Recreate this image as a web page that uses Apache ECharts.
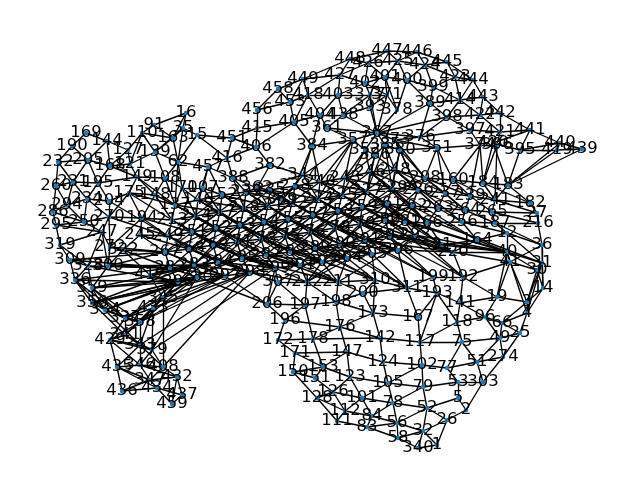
<!DOCTYPE html>
<html>
<head>
<meta charset="utf-8">
<script src="https://cdn.jsdelivr.net/npm/echarts@6/dist/echarts.min.js"></script>
<style>
  html, body { margin: 0; padding: 0; background: #fff; }
  #chart { width: 640px; height: 482px; }
</style>
</head>
<body>
<div id="chart"></div>
<script>
// node label + layout position (x, y in layout units, y grows downward)
const capNodes = [
  ['458',278,89],['449',303,79],['427',340,75],['448',350,59],['426',368,63],['447',387,51],['425',398,61],['446',417,52],
  ['424',425,65],['445',447,62],['423',455,77],['444',473,80],['443',483,97],['442',500,113],['441',530,130],['440',560,143],
  ['439',582,149],['419',557,150],['395',520,150],['420',493,143],
  ['456',257,110],['453',290,102],['418',308,95],['403',338,95],['402',365,83],['401',385,77],['400',407,80],['399',433,87],
  ['377',370,95],['371',387,95],['389',430,103],['414',460,100],
  ['415',257,128],['405',294,122],['404',320,115],['438',343,115],['393',370,107],['378',397,110],['398',447,117],['422',480,115],
  ['361',327,128],['376',420,137],['397',470,130],['421',500,132],
  ['406',256,147],['384',312,146],['357',353,140],['351',437,148],['374',480,145],['396',497,145],
  ['367',377,133],['385',385,145],['373',395,140],['352',365,150],['380',400,150],['386',375,155]
];
const wingNodes = [
  ['91',154,125],['16',186,113],['35',183,128],['110',142,133],['163',173,138],['15',197,135],['169',86,133],['190',72,146],
  ['144',107,141],['127',128,150],['139',155,152],['232',58,162],['205',88,160],['168',110,166],['121',130,164],['62',178,162],
  ['260',56,186],['231',73,182],['195',98,183],['149',137,177],['108',165,178],['170',182,188],['107',203,188],['175',129,193],
  ['148',155,195],['234',87,199],['204',109,201],['286',53,212],['294',67,205],['250',84,222],['270',109,217],['194',142,218],
  ['295',56,225],['247',102,232],['245',140,235],['319',60,245],['272',110,247],['322',123,250],
  ['451',232,138],['416',227,158],['457',208,167],['388',233,178],['382',270,165],['344',303,175],['362',257,188],['339',282,200]
];
const tailNodes = [
  ['309',70,260],['328',88,266],['300',108,266],['336',75,280],['359',92,288],['412',150,275],['356',92,303],['345',163,298],
  ['433',153,308],['334',105,310],['337',125,318],['358',140,322],['341',125,335],['429',110,340],['343',140,345],['379',152,350],
  ['346',140,365],['408',163,367],['435',117,367],['432',177,377],['347',150,380],['434',157,388],['436',122,391],['437',182,395],
  ['459',172,404]
];
const bowlNodes = [
  ['206',267,304],['197',305,305],['198',336,302],['200',363,293],['173',373,313],['167',418,317],['196',285,320],['176',340,327],
  ['172',278,340],['178',313,339],['142',380,338],['117',420,342],['171',295,353],['147',347,352],['124',383,362],['102',422,365],
  ['77',447,368],['150',293,372],['153',323,367],['123',350,377],['105',388,383],['79',423,387],['151',315,378],['126',333,392],
  ['101',362,398],['78',393,403],['52',427,408],['128',317,398],['112',345,411],['84',372,416],['56',397,423],['32',423,431],
  ['111',337,421],['83',367,427],['58',398,438],['340',418,448],['1',437,445],['26',447,420],['2',466,410],['5',458,398],
  ['53',458,382],['303',483,382],['51',477,362],['274',503,357],['49',500,338],['75',462,342],['118',457,322],['96',485,317],
  ['66',502,323],['25',520,333],['4',527,313],['3',527,302],['19',497,297],['141',460,303],['193',437,293],['14',543,288]
];
// strands of the dense band, left to right
const band1 = [['137',175,205],['146',198,200],['152',222,195],['233',246,192],['235',270,190],['238',295,186],['240',320,182],
  ['243',345,178],['246',370,172],['248',395,170],['208',425,178],['160',453,180],['184',483,183],['183',508,185]];
const band2 = [['213',172,220],['214',196,216],['217',220,212],['218',244,208],['221',268,206],['222',292,203],['224',318,199],
  ['225',342,195],['227',367,191],['229',392,188],['236',418,190],['237',445,193],['239',470,196],['241',495,200],['182',530,203]];
const band3 = [['249',168,236],['251',192,232],['252',216,228],['253',240,225],['254',264,222],['255',288,219],['257',313,215],
  ['258',338,211],['259',362,207],['261',387,204],['262',412,206],['263',438,208],['264',465,210],['265',492,212],['27',537,213]];
const band4 = [['267',165,252],['268',189,249],['269',213,245],['271',237,242],['273',261,239],['275',285,236],['276',310,232],
  ['278',335,228],['279',360,224],['280',385,220],['281',405,222],['266',427,223],['256',462,222],['187',495,223],['216',538,223]];
const band5 = [['282',170,268],['283',194,265],['284',218,262],['285',242,258],['287',266,255],['288',290,252],['289',315,248],
  ['290',340,244],['291',365,240],['292',390,236],['293',415,235],['21',442,245],['164',477,240],['12',507,233],['36',542,245]];
const band6 = [['296',178,282],['230',197,277],['297',225,276],['298',250,272],['299',275,268],['301',300,265],['302',322,262],
  ['304',347,258],['305',372,254],['306',398,250],['220',453,252],['40',507,252],['31',542,263]];
const band7 = [['307',278,282],['212',307,282],['211',338,282],['310',375,280],['311',407,288],['199',433,277],['192',463,277],
  ['41',510,262],['30',537,270]];

const capChains = [
  ['458','449','448','447','446','445','444','443','442','441','440','439'],
  ['456','453','418','427','426','425','424','423','444'],
  ['427','448'],['426','448'],['426','447'],['425','447'],['425','446'],['424','446'],['424','445'],['423','445'],
  ['449','427'],['458','453'],['449','453'],['449','418'],['456','458'],
  ['415','405','404','403','402','401','400','399','414','443'],
  ['405','453'],['405','418'],['404','418'],['403','418'],['403','427'],['402','427'],['402','426'],['401','426'],
  ['401','425'],['400','425'],['400','424'],['399','424'],['399','423'],['414','423'],['414','444'],
  ['456','415','406','405'],['384','405'],['384','404'],['361','404'],['361','438'],['438','404'],['438','403'],['438','377'],
  ['377','403'],['377','402'],['377','371'],['371','402'],['371','401'],['371','378'],['378','400'],['378','401'],['389','400'],
  ['389','399'],['389','414'],['398','414'],['398','389'],['422','414'],['422','443'],['422','442'],['398','422'],
  ['367','393'],['367','377'],['367','371'],['367','378'],['367','389'],['367','438'],['367','361'],['367','357'],['367','373'],
  ['367','385'],['393','438'],['393','377'],['393','371'],['367','398'],['367','376'],['367','352'],
  ['376','389'],['376','398'],['376','397'],['397','398'],['397','422'],['421','422'],['421','442'],['421','441'],['421','397'],
  ['373','376'],['351','376'],['351','374'],['374','397'],['374','396'],['396','421'],['396','420'],['420','441'],['420','395'],
  ['395','441'],['395','440'],['395','419'],['419','440'],['419','439'],['351','373'],
  ['357','384'],['357','361'],['352','357'],['386','352'],['386','385'],['385','380'],['380','351'],['380','373'],
  ['406','382'],['384','344'],['357','344'],['352','243'],['352','246'],['357','243'],['357','240'],['386','246'],['386','248'],
  ['385','248'],['380','248'],['380','208'],['351','208'],['351','160'],['374','160'],['374','184'],['396','184'],['420','184'],
  ['420','183'],['395','183'],['419','183'],['439','183'],['440','183'],['384','240'],['384','238'],
  ['385','229'],['373','236'],['386','227'],['352','225'],['357','224'],['380','236'],['380','229'],['386','243'],
  ['351','237'],['374','239'],['396','241'],['373','208'],['385','227']
];
const wingChains = [
  ['169','190','232','260','286','295','319','309','336','356'],
  ['169','144','127','110','91','16'],['110','163','16'],['163','35','15'],['91','163'],['35','16'],
  ['190','205','168','121','139','62','15'],
  ['144','205'],['144','168'],['127','168'],['127','121'],['110','121'],['110','139'],['139','163'],['139','35'],['62','35'],
  ['62','457'],['15','451'],['15','416'],['62','163'],
  ['232','205'],['232','231'],['205','231'],['205','195'],['168','195'],['168','149'],['121','149'],['139','108'],['62','108'],['62','170'],
  ['260','231','195','149','108','170','107'],
  ['260','294'],['231','234'],['231','294'],['195','234'],['195','204'],['149','175'],['149','148'],['108','148'],
  ['286','294','234','204','175','148','137'],
  ['286','250'],['294','250'],['234','250'],['234','270'],['204','270'],['175','270'],['175','194'],['148','194'],
  ['295','250','270','194','245'],
  ['295','247'],['250','247'],['270','247'],['270','272'],['194','272'],['194','249'],['245','249'],['245','267'],['245','322'],
  ['319','247','272','322','267'],
  ['319','328'],['247','328'],['247','300'],['272','300'],
  ['170','137'],['170','146'],['107','146'],['107','152'],['457','107'],['457','388'],['457','416'],['416','451'],['451','406'],
  ['416','388'],['388','233'],['388','362'],['382','388'],['382','362'],['382','344'],['344','362'],['344','339'],['339','362'],
  ['362','233'],['362','235'],['339','235'],['339','238'],['344','240'],['451','415'],['416','406'],['148','213'],['194','213'],
  ['137','213'],['457','152'],
  ['148','214'],['175','213'],['204','249'],['270','249'],['245','268'],['194','251'],['108','137'],['170','214'],['107','217'],
  ['388','218'],['362','221'],['339','222'],['344','224'],['457','146'],['62','137'],['149','137'],['175','137']
];
const tailChains = [
  ['319','309','336','356','334','337','358','343','379','408','432','437','459'],
  ['272','300','359','334'],['322','300'],['322','412'],['328','359'],['328','336'],['309','328'],['300','328'],['356','359'],
  ['412','345','433','358','341','429','435','436','434','459'],
  ['345','408'],['433','379'],['337','341'],['341','343'],['343','346'],['346','435'],['346','347'],['347','434'],['347','432'],
  ['408','347'],['379','346'],['429','346'],['436','347'],['434','437'],['432','459'],
  ['356','283'],['359','284'],['334','285'],['337','296'],['358','230'],['412','282'],['412','283'],['345','230'],['345','297'],
  ['433','298'],['358','297'],['343','298'],['379','299'],['408','298'],['433','297'],['337','230'],['341','296'],
  ['272','267'],['322','282'],['300','282'],['300','267'],
  ['356','297'],['359','296'],['334','296'],['336','282'],['309','267'],['328','282'],['300','283'],['356','230'],['334','230'],
  ['341','358'],['429','343'],['435','347'],['429','337'],['345','358'],['433','343'],['379','408'],['343','408'],['346','432'],
  ['435','434'],['337','433'],['341','379'],['359','337'],['336','334'],['412','296'],['345','296'],['358','298'],['379','230'],
  ['356','337'],['334','358'],['359','358'],['336','337'],['356','341'],['334','343'],['429','358'],['341','433'],['337','345'],
  ['343','433'],['429','379'],['435','343'],['346','408'],['336','296'],['309','282'],['328','296'],['359','230'],['356','296']
];
const bowlChains = [
  ['206','197','198','200','311'],['196','176','173','167','193'],['172','178','142','117','118'],
  ['171','147','124','102','77','75'],['150','153','123','105','79','53','303'],['151','126','101','78','52','5'],
  ['128','112','84','56','32','26'],['111','83','58','340','1'],
  ['206','196','172','171','150','128','111'],['197','178','153','151','126','112'],['198','176','147','123','101','84','83'],
  ['200','173','142','124','105','78','56','58'],['167','117','102','79','52','32','340'],
  ['197','196'],['176','178'],['176','142'],['173','142'],['198','173'],['171','153'],['147','153'],['105','102'],['150','151'],
  ['126','123'],['101','105'],['78','79'],['126','128'],['112','101'],['84','78'],['56','52'],['112','111'],['56','83'],['58','32'],
  ['1','32'],['1','26'],['26','52'],['2','26'],['2','5'],['5','53'],['53','77'],['303','51'],['51','77'],['274','51'],['274','303'],
  ['2','303'],['49','274'],['49','51'],['49','75'],['75','77'],['75','51'],['117','75'],['118','75'],['118','96'],['96','49'],
  ['66','96'],['66','49'],['25','66'],['25','49'],['25','274'],['4','25'],['4','66'],['3','4'],['3','66'],['14','3'],['14','4'],
  ['141','118'],['141','96'],['19','96'],['19','141'],['19','3'],['193','141'],['193','118'],['193','117'],['167','311'],
  ['193','311'],['200','211'],['198','211'],['198','212'],['197','212'],['197','307'],['206','307'],['200','310'],['206','299'],
  ['206','297'],['206','230'],['173','310'],
  ['193','199'],['141','192'],['19','192'],['19','41'],['3','41'],['14','30'],['3','30'],['14','31'],
  ['182','27','216','36','31','30','14','4','25'],
  ['4','31'],['3','31'],['41','36'],['14','36'],['12','31'],['40','4'],['19','40']
];

const bandStrands = [band1, band2, band3, band4, band5, band6, band7];

const nodes = [];
const seen = {};
[capNodes, wingNodes, tailNodes, bowlNodes].concat(bandStrands).forEach(group => {
  group.forEach(n => {
    if (seen[n[0]]) return;
    seen[n[0]] = true;
    nodes.push({ name: n[0], value: [n[1], n[2]] });
  });
});

const links = [];
const edgeKey = {};
function addEdge(a, b) {
  if (a === b || !seen[a] || !seen[b]) return;
  const k = a < b ? a + '|' + b : b + '|' + a;
  if (edgeKey[k]) return;
  edgeKey[k] = true;
  links.push({ source: a, target: b });
}
function addChains(chains) {
  chains.forEach(c => { for (let i = 1; i < c.length; i++) addEdge(c[i - 1], c[i]); });
}
// stitch two strands: link each node to the partner 'shift' steps along the other strand
function stitch(a, b, maxX, shifts) {
  a.forEach(p => {
    if (p[1] > maxX) return;
    let best = -1, bd = 1e9;
    b.forEach((q, j) => { const d = Math.abs(q[1] - p[1]); if (d < bd) { bd = d; best = j; } });
    if (bd > 40) return;
    shifts.forEach(s => {
      const j = best + s;
      if (j >= 0 && j < b.length) addEdge(p[0], b[j][0]);
    });
  });
}

addChains(capChains);
addChains(wingChains);
addChains(tailChains);
addChains(bowlChains);
bandStrands.forEach(s => addChains([s.map(n => n[0])]));
for (let i = 0; i + 1 < bandStrands.length; i++) stitch(bandStrands[i], bandStrands[i + 1], 999, [0, 1]);
for (let i = 0; i + 2 < bandStrands.length; i++) stitch(bandStrands[i], bandStrands[i + 2], 425, [2, -2]);
for (let i = 0; i + 3 < bandStrands.length; i++) stitch(bandStrands[i], bandStrands[i + 3], 400, [3]);
stitch(band1, band2, 999, [2]);
stitch(band3, band4, 420, [-2]);
stitch(band5, band6, 420, [2]);

const chart = echarts.init(document.getElementById('chart'), null, { renderer: 'canvas' });
chart.setOption({
  animation: false,
  backgroundColor: '#fff',
  grid: { left: 0, right: 0, top: 0, bottom: 0 },
  xAxis: { type: 'value', min: 0, max: 640, show: false },
  yAxis: { type: 'value', min: 0, max: 482, inverse: true, show: false },
  series: [{
    type: 'graph',
    coordinateSystem: 'cartesian2d',
    layout: 'none',
    symbol: 'circle',
    symbolSize: 4.5,
    data: nodes,
    links: links,
    itemStyle: { color: '#1f77b4' },
    lineStyle: { color: '#000', width: 1.35, opacity: 1, curveness: 0 },
    label: {
      show: true,
      position: 'inside',
      color: '#000',
      fontSize: 16.5,
      fontFamily: 'DejaVu Sans',
      formatter: '{b}'
    },
    emphasis: { disabled: true }
  }]
});
</script>
</body>
</html>
